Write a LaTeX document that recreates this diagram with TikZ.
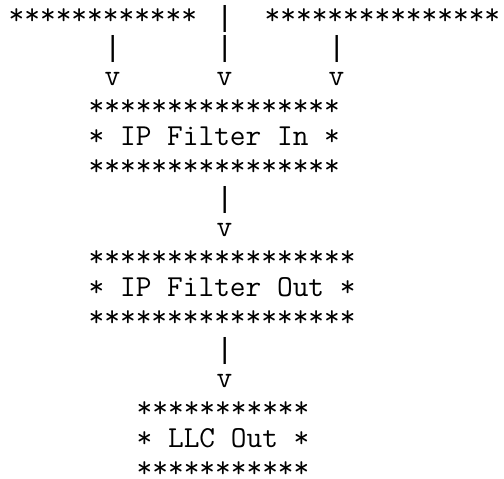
\documentclass[tikz,border=0pt]{standalone}
\usepackage{fontspec}
\newfontfamily\pipefont{Liberation Mono}
\newcommand\asciirow[4]{\node[asciitxt] (#1) at ({8.7+16*#2},{145.5+30.2*(#3-5)}) {#4};}
\newcommand\asciipipe[3]{\node[pipetxt] (#1) at ({16.7+16*#2},{147+30.2*(#3-5)}) {|};}
\begin{document}
\begin{tikzpicture}[x=1bp,y=-1bp,
  asciitxt/.style={anchor=base west,inner sep=0pt,outer sep=0pt,
    font=\ttfamily\fontsize{30.48bp}{32bp}\selectfont,text=black},
  pipetxt/.style={anchor=base,inner sep=0pt,outer sep=0pt,
    font=\pipefont\fontsize{29bp}{32bp}\selectfont,text=black}]
\useasboundingbox[fill=white] (0,0) rectangle (504,479);
% row 1
\asciirow{srcL}{0}{1}{************}
\asciipipe{srcM}{13}{1}
\asciirow{srcR}{16}{1}{***************}
% rows 2-3
\asciipipe{pipeL}{6}{2}
\asciipipe{pipeM}{13}{2}
\asciipipe{pipeR}{20}{2}
\asciirow{arrL}{6}{3}{v}
\asciirow{arrM}{13}{3}{v}
\asciirow{arrR}{20}{3}{v}
% IP Filter In box
\asciirow{inTop}{5}{4}{****************}
\asciirow{inMid}{5}{5}{* IP Filter In *}
\asciirow{inBot}{5}{6}{****************}
\asciipipe{pipeA}{13}{7}
\asciirow{arrA}{13}{8}{v}
% IP Filter Out box
\asciirow{outTop}{5}{9}{*****************}
\asciirow{outMid}{5}{10}{* IP Filter Out *}
\asciirow{outBot}{5}{11}{*****************}
\asciipipe{pipeB}{13}{12}
\asciirow{arrB}{13}{13}{v}
% LLC Out box
\asciirow{llcTop}{8}{14}{***********}
\asciirow{llcMid}{8}{15}{* LLC Out *}
\asciirow{llcBot}{8}{16}{***********}
\end{tikzpicture}
\end{document}
